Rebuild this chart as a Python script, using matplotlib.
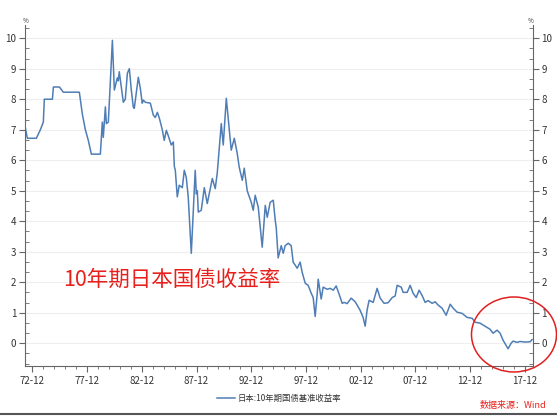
import numpy as np
import matplotlib
matplotlib.use('Agg')
import matplotlib.pyplot as plt
from matplotlib.ticker import AutoMinorLocator, FixedLocator
from matplotlib.patches import Ellipse
from matplotlib.lines import Line2D

plt.rcParams['font.family'] = ['Noto Sans CJK SC', 'DejaVu Sans']

# dates as decimal years, yields in %
years = [1972.28, 1972.46, 1973.28, 1973.65, 1973.92, 1974.01, 1974.75, 1974.84, 1975.39, 1975.75,
         1977.21, 1977.49, 1977.76, 1978.03, 1978.31, 1979.13, 1979.31, 1979.40, 1979.59, 1979.68,
         1979.86, 1980.23, 1980.41, 1980.68, 1980.77, 1980.86, 1981.05, 1981.23, 1981.41, 1981.60,
         1981.78, 1981.96, 1982.14, 1982.23, 1982.51, 1982.60, 1982.78, 1982.96, 1983.06, 1983.24,
         1983.70, 1983.97, 1984.15, 1984.34, 1984.52, 1984.79, 1984.97, 1985.16, 1985.34, 1985.61,
         1985.80, 1985.89, 1985.98, 1986.16, 1986.34, 1986.62, 1986.80, 1986.98, 1987.16, 1987.44,
         1987.80, 1987.90, 1987.99, 1988.08, 1988.35, 1988.63, 1988.90, 1989.36, 1989.63, 1989.81,
         1990.18, 1990.36, 1990.64, 1991.09, 1991.37, 1991.64, 1991.82, 1992.10, 1992.28, 1992.55,
         1992.92, 1993.10, 1993.28, 1993.56, 1993.92, 1994.20, 1994.38, 1994.65, 1994.93, 1995.11,
         1995.20, 1995.38, 1995.66, 1995.84, 1996.02, 1996.30, 1996.57, 1996.75, 1997.12, 1997.39,
         1997.57, 1997.85, 1998.12, 1998.40, 1998.58, 1998.76, 1998.95, 1999.04, 1999.31, 1999.49,
         1999.86, 2000.13, 2000.41, 2000.68, 2000.96, 2001.23, 2001.41, 2001.68, 2002.05, 2002.42,
         2002.87, 2003.14, 2003.33, 2003.51, 2003.69, 2004.06, 2004.42, 2004.70, 2005.06, 2005.43,
         2005.80, 2006.07, 2006.25, 2006.62, 2006.80, 2007.17, 2007.44, 2007.71, 2007.99, 2008.26,
         2008.53, 2008.81, 2009.08, 2009.45, 2009.72, 2010.00, 2010.36, 2010.73, 2011.10, 2011.37,
         2011.73, 2012.19, 2012.64, 2013.10, 2013.38, 2013.83, 2014.29, 2014.74, 2015.02, 2015.38,
         2015.66, 2015.93, 2016.21, 2016.39, 2016.66, 2016.84, 2017.21, 2017.48, 2017.94, 2018.40,
         2018.58]
yields = [7.05, 6.72, 6.72, 7.00, 7.25, 8.00, 8.00, 8.40, 8.40, 8.23,
          8.23, 7.50, 7.00, 6.65, 6.20, 6.20, 7.25, 6.75, 7.75, 7.20,
          7.25, 9.93, 8.30, 8.70, 8.60, 8.90, 8.40, 7.90, 8.00, 8.85,
          9.00, 8.30, 7.74, 7.70, 8.46, 8.72, 8.36, 7.87, 7.97, 7.90,
          7.87, 7.48, 7.40, 7.57, 7.38, 7.00, 6.65, 6.98, 6.80, 6.50,
          6.60, 5.80, 5.67, 4.80, 5.18, 5.10, 5.67, 5.44, 4.80, 2.95,
          5.67, 4.90, 5.00, 4.30, 4.36, 5.10, 4.58, 5.40, 5.07, 5.57,
          7.20, 6.50, 8.03, 6.33, 6.72, 6.22, 5.77, 5.34, 5.74, 5.00,
          4.62, 4.36, 4.85, 4.46, 3.15, 4.52, 4.13, 4.62, 4.69, 4.03,
          3.80, 2.80, 3.20, 2.95, 3.20, 3.28, 3.20, 2.66, 2.46, 2.66,
          2.33, 1.97, 1.90, 1.64, 1.50, 0.88, 1.64, 2.10, 1.45, 1.84,
          1.77, 1.80, 1.74, 1.88, 1.60, 1.31, 1.34, 1.30, 1.48, 1.36,
          1.08, 0.85, 0.56, 1.10, 1.41, 1.34, 1.80, 1.48, 1.31, 1.33,
          1.50, 1.55, 1.90, 1.84, 1.67, 1.67, 1.90, 1.64, 1.50, 1.74,
          1.57, 1.34, 1.40, 1.31, 1.36, 1.25, 1.15, 0.92, 1.28, 1.15,
          1.02, 0.98, 0.85, 0.82, 0.69, 0.66, 0.56, 0.46, 0.33, 0.43,
          0.33, 0.10, -0.07, -0.18, 0.00, 0.07, 0.03, 0.06, 0.04, 0.05,
          0.12]

tick_years = [1972, 1977, 1982, 1987, 1992, 1997, 2002, 2007, 2012, 2017]
tick_labels = ['72-12', '77-12', '82-12', '87-12', '92-12', '97-12', '02-12', '07-12', '12-12', '17-12']
y_ticks = [0, 1, 2, 3, 4, 5, 6, 7, 8, 9, 10]

series_name = '日本:10年期国债基准收益率'
title = '10年期日本国债收益率'
source = '数据来源：Wind'

fig = plt.figure(figsize=(5.57, 4.18), dpi=100)
ax = fig.add_axes([0.044, 0.124, 0.913, 0.816])

ax.plot(years, yields, color='#4f7db5', lw=1.1, label=series_name)

ax.set_xlim(1972.2, 2018.67)
ax.set_ylim(-0.75, 10.43)

xt = [y + 11 / 12 for y in tick_years]
ax.set_xticks(xt)
ax.set_xticklabels(tick_labels, fontsize=7, color='#333333')
ax.xaxis.set_minor_locator(FixedLocator(np.arange(1972, 2019) + 11 / 12))

ax.set_yticks(y_ticks)
ax.set_yticklabels([str(v) for v in y_ticks], fontsize=7, color='#333333')
ax.yaxis.set_minor_locator(AutoMinorLocator(3))
ax.tick_params(axis='y', which='both', left=True, right=True, labelleft=True, labelright=True)
ax.tick_params(axis='y', which='major', direction='out', length=4, color='#666666', pad=2)
ax.tick_params(axis='y', which='minor', direction='in', length=3, color='#666666')
ax.tick_params(axis='x', which='major', direction='out', length=4, color='#666666', pad=3)
ax.tick_params(axis='x', which='minor', direction='out', length=2.5, color='#666666')

ax.grid(axis='y', color='#eeeeee', lw=0.8)
ax.set_axisbelow(True)
for s in ['left', 'right', 'bottom']:
    ax.spines[s].set_color('#666666')
    ax.spines[s].set_linewidth(0.8)
ax.spines['top'].set_visible(False)

fig.text(0.046, 0.945, '%', fontsize=4.5, color='#333333', ha='center')
fig.text(0.952, 0.945, '%', fontsize=4.5, color='#333333', ha='center')

leg = ax.legend(loc='upper center', bbox_to_anchor=(0.5, -0.06), frameon=False,
                fontsize=6, handlelength=2.2, handletextpad=0.3)
for t in leg.get_texts():
    t.set_color('#333333')

fig.text(0.113, 0.33, title, fontsize=15.5, color='#e8201c', va='center', ha='left')
fig.text(0.98, 0.018, source, fontsize=6.5, color='#e8201c', ha='right', va='bottom', style='italic')

fig.add_artist(Line2D([0, 1], [0.01, 0.01], transform=fig.transFigure, color='#555555', lw=1.5))
fig.add_artist(Ellipse((0.9228, 0.1998), 0.1526, 0.1794, transform=fig.transFigure,
                       fill=False, edgecolor='#e02020', lw=1.1))

fig.savefig('out.png', dpi=100)
